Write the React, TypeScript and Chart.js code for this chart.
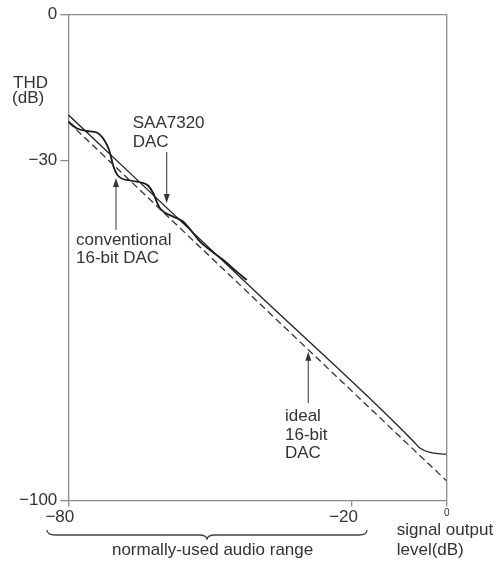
import React, { useEffect, useRef } from "react";
import { Chart, registerables } from "chart.js";
Chart.register(...registerables);

// ---- data (signal output level dB -> THD dB) ----
const idealX = [-80, 0];
const idealY = [-22.1, -96.0];

const saaX = [-80, -40, -7.1, -6.0, -4.95, -3.53, -1.78, 0];
const saaY = [-20.6, -57.4, -87.75, -88.93, -89.6, -90.08, -90.37, -90.49];

const convX = [-80, -78.22, -76.11, -74.0, -72.45, -71.33, -70.49, -69.43, -66.96, -64.63, -63.15, -62.03, -61.31, -60.61, -57.8, -55.69, -53.57, -52.16, -50.05, -47.23, -44.4, -42.28];
const convY = [-22.0, -23.38, -23.94, -24.25, -25.73, -27.95, -31.14, -33.2, -34.13, -34.54, -35.16, -36.76, -38.49, -39.85, -41.58, -42.61, -45.0, -46.73, -48.44, -50.49, -52.9, -54.61];

const xTicks = [-80, -20, 0];
const yTicks = [0, -30, -100];

// ---- annotations (data coordinates) ----
const FONT = '"Liberation Sans", Arial, sans-serif';
const TEXT_COLOR = "#333";
const texts = [
  { t: "THD", x: -91.69, y: -15.09, align: "left" },
  { t: "(dB)", x: -91.9, y: -18.24, align: "left" },
  { t: "SAA7320", x: -66.38, y: -23.32, align: "left" },
  { t: "DAC", x: -66.38, y: -27.17, align: "left" },
  { t: "conventional", x: -78.37, y: -47.41, align: "left" },
  { t: "16-bit DAC", x: -78.37, y: -51.17, align: "left" },
  { t: "ideal", x: -34.19, y: -83.57, align: "left" },
  { t: "16-bit", x: -34.19, y: -87.55, align: "left" },
  { t: "DAC", x: -34.19, y: -91.31, align: "left" },
  { t: "normally-used audio range", x: -49.5, y: -111.22, align: "center" },
  { t: "signal output", x: -10.57, y: -107.1, align: "left" },
  { t: "level(dB)", x: -10.57, y: -111.22, align: "left" },
];
// arrows: x, tail y, tip y
const arrows = [
  { x: -59.2, from: -28.26, to: -38.76 },
  { x: -69.92, from: -44.32, to: -33.61 },
  { x: -29.26, from: -79.93, to: -69.37 },
];
const brace = { left: -84.5, right: -16.85, mid: -50.68, top: -106.07, bar: -107.1, tip: -108.1 };

const toPts = (xs: number[], ys: number[]) => xs.map((x, i) => ({ x, y: ys[i] }));

const annotPlugin = {
  id: "annot",
  afterDatasetsDraw(chart: any) {
    const { ctx, chartArea, scales } = chart;
    const sx = scales.x, sy = scales.y;
    const px = (v: number) => sx.getPixelForValue(v);
    const py = (v: number) => sy.getPixelForValue(v);
    ctx.save();
    // top & right frame
    ctx.strokeStyle = "#8a8a8a";
    ctx.lineWidth = 1.3;
    ctx.beginPath();
    ctx.moveTo(chartArea.left, chartArea.top);
    ctx.lineTo(chartArea.right, chartArea.top);
    ctx.lineTo(chartArea.right, chartArea.bottom);
    ctx.stroke();
    // arrows
    ctx.strokeStyle = "#555";
    ctx.fillStyle = "#333";
    ctx.lineWidth = 1.2;
    for (const a of arrows) {
      const x = px(a.x), y1 = py(a.from), y2 = py(a.to);
      const dir = y2 > y1 ? 1 : -1;
      ctx.beginPath();
      ctx.moveTo(x, y1);
      ctx.lineTo(x, y2 - dir * 8);
      ctx.stroke();
      ctx.beginPath();
      ctx.moveTo(x, y2);
      ctx.lineTo(x - 3, y2 - dir * 9);
      ctx.lineTo(x + 3, y2 - dir * 9);
      ctx.closePath();
      ctx.fill();
    }
    // brace
    const bl = px(brace.left), br = px(brace.right), bm = px(brace.mid);
    const bt = py(brace.top), bb = py(brace.bar), btip = py(brace.tip);
    ctx.strokeStyle = "#444";
    ctx.lineWidth = 1.3;
    ctx.beginPath();
    ctx.moveTo(bl, bt);
    ctx.quadraticCurveTo(bl, bb, bl + 8, bb);
    ctx.lineTo(bm - 8, bb);
    ctx.quadraticCurveTo(bm, bb, bm, btip);
    ctx.quadraticCurveTo(bm, bb, bm + 8, bb);
    ctx.lineTo(br - 8, bb);
    ctx.quadraticCurveTo(br, bb, br, bt);
    ctx.stroke();
    // texts
    ctx.fillStyle = TEXT_COLOR;
    ctx.font = `17px ${FONT}`;
    ctx.textBaseline = "alphabetic";
    for (const t of texts) {
      ctx.textAlign = t.align as CanvasTextAlign;
      ctx.fillText(t.t, px(t.x), py(t.y));
    }
    ctx.restore();
  },
};

export default function App() {
  const ref = useRef<HTMLCanvasElement | null>(null);
  useEffect(() => {
    if (!ref.current) return;
    const chart = new Chart(ref.current, {
      type: "line",
      data: {
        datasets: [
          {
            label: "ideal 16-bit DAC",
            data: toPts(idealX, idealY),
            borderColor: "#333",
            borderWidth: 1.3,
            borderDash: [7, 4],
            pointRadius: 0,
            tension: 0,
          },
          {
            label: "SAA7320 DAC",
            data: toPts(saaX, saaY),
            borderColor: "#222",
            borderWidth: 1.3,
            pointRadius: 0,
            cubicInterpolationMode: "monotone",
          },
          {
            label: "conventional 16-bit DAC",
            data: toPts(convX, convY),
            borderColor: "#1a1a1a",
            borderWidth: 1.8,
            pointRadius: 0,
            cubicInterpolationMode: "monotone",
          },
        ],
      },
      options: {
        animation: false,
        responsive: false,
        events: [],
        layout: { padding: { top: 14.7, right: 54.3, left: 0, bottom: 0 } },
        plugins: { legend: { display: false }, tooltip: { enabled: false } },
        scales: {
          x: {
            type: "linear",
            min: -80,
            max: 0,
            afterFit: (s: any) => { s.height = 61.5; },
            afterBuildTicks: (s: any) => { s.ticks = xTicks.map((v) => ({ value: v })); },
            border: { display: true, color: "#8a8a8a", width: 1.3 },
            grid: { drawOnChartArea: false, drawTicks: true, tickLength: 6, color: "#8a8a8a", lineWidth: 1.3 },
            ticks: {
              padding: 1,
              maxRotation: 0,
              autoSkip: false,
              color: TEXT_COLOR,
              font: (c: any) => (c.tick && c.tick.value === 0 ? { family: FONT, size: 10 } : { family: FONT, size: 17 }),
              callback: (v: any) => (v === 0 ? "0" : "\u2212" + Math.abs(v) + "\u2002\u2002"),
            },
          },
          y: {
            type: "linear",
            min: -100,
            max: 0,
            afterFit: (s: any) => { s.width = 68.3; },
            afterBuildTicks: (s: any) => { s.ticks = yTicks.map((v) => ({ value: v })); },
            border: { display: true, color: "#8a8a8a", width: 1.3 },
            grid: { drawOnChartArea: false, drawTicks: true, tickLength: 8, color: "#8a8a8a", lineWidth: 1.3 },
            ticks: {
              padding: 3,
              autoSkip: false,
              color: TEXT_COLOR,
              font: { family: FONT, size: 17 },
              callback: (v: any) => (v === 0 ? "0" : "\u2212" + Math.abs(v)),
            },
          },
        },
      },
      plugins: [annotPlugin],
    } as any);
    return () => chart.destroy();
  }, []);
  return (
    <div style={{ position: "fixed", left: 0, top: 0, width: 501, height: 562, background: "#fff" }}>
      <canvas ref={ref} width={501} height={562} style={{ width: 501, height: 562 }} />
    </div>
  );
}
